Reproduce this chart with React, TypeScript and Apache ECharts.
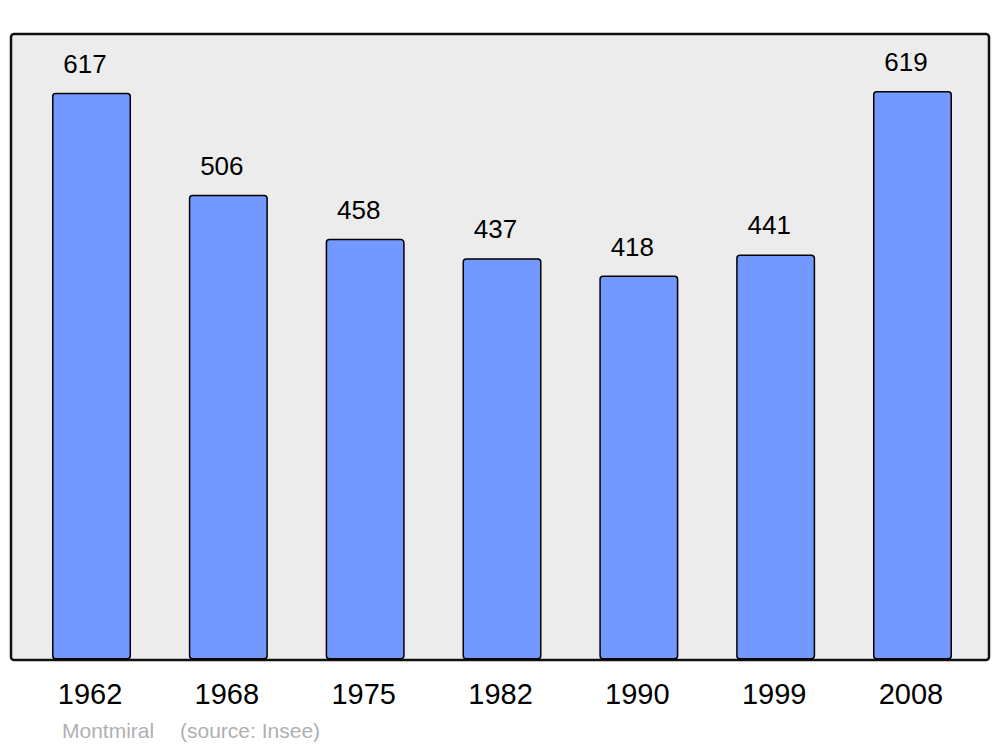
import React, { useEffect, useRef } from "react";
import * as echarts from "echarts";

const years = ["1962", "1968", "1975", "1982", "1990", "1999", "2008"];
const population = [617, 506, 458, 437, 418, 441, 619];
const commune = "Montmiral";
const source = "(source: Insee)";

const FONT = "'Liberation Sans', Arial, sans-serif";

export default function App() {
  const ref = useRef<HTMLDivElement>(null);
  useEffect(() => {
    document.body.style.margin = "0";
    const chart = echarts.init(ref.current!, null, { renderer: "svg" });
    chart.setOption({
      animation: false,
      backgroundColor: "#ffffff",
      grid: { left: 23.1, width: 957.8, top: 16.6, bottom: 747 - 659.5 },
      xAxis: {
        type: "category",
        data: years,
        axisLine: { show: false },
        axisTick: { show: false },
        axisLabel: { color: "#000", fontSize: 29, fontFamily: FONT, margin: 20, padding: [0, 3, 0, 0] },
      },
      yAxis: {
        type: "value",
        min: 0,
        max: 700,
        show: false,
        splitLine: { show: false },
      },
      graphic: [
        {
          type: "rect",
          z: -10,
          shape: { x: 11, y: 34, width: 978, height: 626, r: 3 },
          style: { fill: "#ececec", stroke: "#111111", lineWidth: 2.5 },
        },
        {
          type: "text",
          x: 62,
          y: 730,
          style: { text: commune, fill: "#b0b0b0", font: `21px ${FONT}`, textVerticalAlign: "middle" },
        },
        {
          type: "text",
          x: 180,
          y: 730,
          style: { text: source, fill: "#b0b0b0", font: `21px ${FONT}`, textVerticalAlign: "middle" },
        },
      ],
      series: [
        {
          type: "bar",
          data: population,
          barWidth: 79,
          itemStyle: { color: "#7399ff", borderColor: "#000", borderWidth: 1.5, borderRadius: 3 },
          label: {
            show: true,
            position: "top",
            distance: 16,
            offset: [-6.5, 0],
            color: "#000",
            fontSize: 26,
            fontFamily: FONT,
          },
        },
      ],
    });
    return () => chart.dispose();
  }, []);
  return <div ref={ref} style={{ width: 1000, height: 747 }} />;
}
